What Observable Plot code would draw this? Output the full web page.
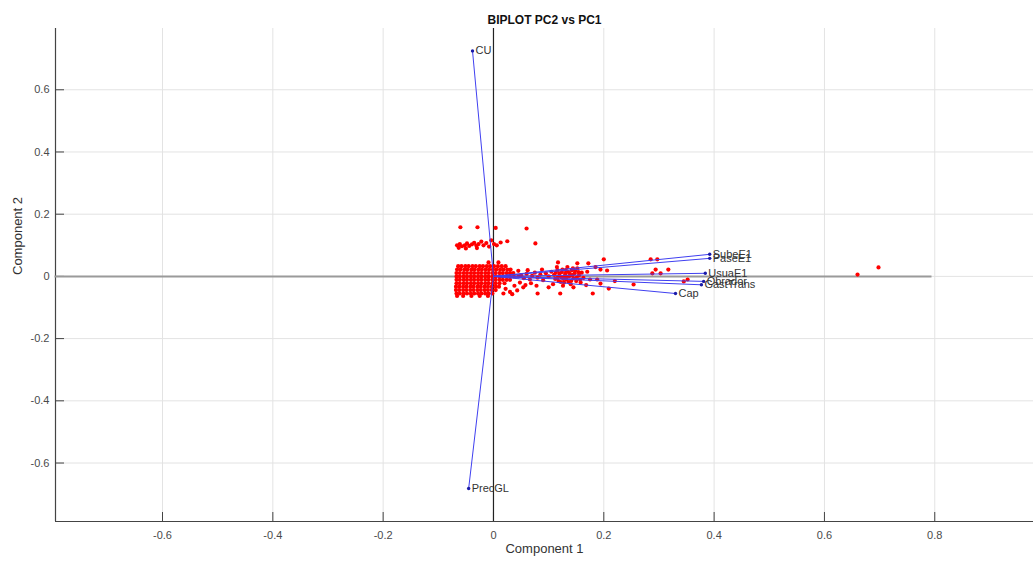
<!DOCTYPE html>
<html>
<head>
<meta charset="utf-8">
<script src="https://cdn.jsdelivr.net/npm/d3@7"></script>
<script src="https://cdn.jsdelivr.net/npm/@observablehq/plot@0.6"></script>
<style>
  html, body { margin: 0; padding: 0; background: #fff; }
  #chart svg { display: block; }
</style>
</head>
<body>
<div id="chart"></div>
<script>
// ---- Data ----
const chartTitle = "BIPLOT PC2 vs PC1";
const xLabel = "Component 1";
const yLabel = "Component 2";
const xTicks = [-0.6, -0.4, -0.2, 0, 0.2, 0.4, 0.6, 0.8];
const yTicks = [-0.6, -0.4, -0.2, 0, 0.2, 0.4, 0.6];

// loading vectors
const vecNames = ["CU", "PrecGL", "SubeE1", "PaseE1", "UsuaE1", "Obrador", "GastTrans", "Cap"];
const vecX = [-0.038, -0.045, 0.392, 0.392, 0.384, 0.381, 0.377, 0.330];
const vecY = [0.725, -0.682, 0.071, 0.058, 0.010, -0.016, -0.027, -0.055];

// dense score cluster, by rows: [y, [x values]]
const clusterRows = [
  [0.033, [-0.064, -0.058, -0.051, -0.045, -0.038, -0.032, -0.025, -0.019, -0.012, -0.006, 0.001, 0.008, 0.015, 0.022]],
  [0.022, [-0.066, -0.060, -0.053, -0.047, -0.040, -0.034, -0.027, -0.021, -0.014, -0.008, -0.001, 0.005, 0.012, 0.018, 0.025, 0.031]],
  [0.011, [-0.067, -0.061, -0.054, -0.048, -0.041, -0.035, -0.028, -0.022, -0.015, -0.009, -0.002, 0.004, 0.011, 0.017, 0.024, 0.030, 0.036]],
  [0.000, [-0.067, -0.061, -0.054, -0.048, -0.041, -0.035, -0.028, -0.022, -0.015, -0.009, -0.002, 0.004, 0.011, 0.017, 0.024, 0.030, 0.037, 0.045]],
  [-0.011, [-0.067, -0.061, -0.054, -0.048, -0.041, -0.035, -0.028, -0.022, -0.015, -0.009, -0.002, 0.004, 0.011, 0.017, 0.024, 0.030]],
  [-0.022, [-0.067, -0.061, -0.054, -0.048, -0.041, -0.035, -0.028, -0.022, -0.015, -0.009, -0.002, 0.004, 0.011, 0.020]],
  [-0.033, [-0.068, -0.062, -0.055, -0.049, -0.042, -0.036, -0.029, -0.023, -0.016, -0.010, -0.003, 0.004, 0.010]],
  [-0.044, [-0.068, -0.062, -0.055, -0.049, -0.042, -0.036, -0.029, -0.023, -0.016, -0.010, -0.003, 0.004]],
  [-0.055, [-0.067, -0.061, -0.054, -0.048, -0.041, -0.035, -0.028, -0.022, -0.015, -0.009, -0.002]],
  [-0.063, [-0.066, -0.055, -0.040, -0.025, -0.010]]
];

// remaining scattered scores: [x, y]
const scatterPts = [
  [-0.066, 0.100], [-0.061, 0.104], [-0.057, 0.097], [-0.052, 0.100], [-0.048, 0.106], [-0.044, 0.098],
  [-0.039, 0.103], [-0.035, 0.108], [-0.031, 0.099], [-0.027, 0.104], [-0.022, 0.112], [-0.018, 0.100],
  [-0.013, 0.107], [-0.008, 0.096], [-0.004, 0.116], [0.001, 0.104], [0.006, 0.100], [0.013, 0.109],
  [0.025, 0.113], [0.076, 0.106], [-0.063, 0.092], [-0.050, 0.090], [-0.030, 0.091],
  [-0.060, 0.158], [-0.029, 0.158], [0.004, 0.156], [0.060, 0.154], [-0.009, 0.045], [0.009, 0.045],
  [0.050, 0.004], [0.055, -0.006], [0.060, 0.008], [0.066, -0.010], [0.070, 0.002], [0.075, 0.012],
  [0.080, -0.004], [0.085, 0.006], [0.090, -0.012], [0.095, 0.010], [0.100, 0.000], [0.048, -0.020],
  [0.058, -0.028], [0.068, -0.022], [0.045, 0.018], [0.062, 0.020], [0.088, 0.022], [0.054, -0.035],
  [0.043, -0.045], [0.018, -0.055], [0.034, -0.057], [0.080, -0.055], [0.100, -0.035], [0.078, -0.030],
  [0.030, -0.050], [0.022, -0.040], [0.038, -0.030],
  [0.105, 0.015], [0.110, 0.005], [0.112, -0.008], [0.116, 0.020], [0.118, -0.015], [0.120, 0.010],
  [0.123, -0.003], [0.125, 0.022], [0.128, -0.020], [0.130, 0.008], [0.132, -0.010], [0.135, 0.015],
  [0.137, 0.000], [0.140, -0.025], [0.142, 0.020], [0.145, -0.006], [0.147, 0.010], [0.150, -0.015],
  [0.152, 0.026], [0.155, 0.004], [0.158, -0.020], [0.160, 0.012], [0.163, -0.005], [0.108, -0.025],
  [0.115, 0.030], [0.126, -0.030], [0.134, 0.030], [0.145, -0.035], [0.117, 0.045], [0.152, 0.042],
  [0.172, 0.042], [0.121, -0.055], [0.170, 0.015], [0.175, -0.010], [0.168, -0.028],
  [0.113, 0.012], [0.119, 0.002], [0.124, 0.014], [0.127, -0.008], [0.131, 0.020], [0.133, -0.002],
  [0.138, 0.010], [0.141, -0.014], [0.143, 0.004], [0.148, 0.018], [0.151, -0.004], [0.154, 0.014],
  [0.122, -0.018], [0.136, -0.018], [0.129, 0.000], [0.144, 0.026], [0.157, -0.010], [0.116, -0.005],
  [0.200, 0.055], [0.194, 0.022], [0.206, 0.019], [0.188, -0.010], [0.194, -0.023], [0.209, -0.039],
  [0.180, -0.055], [0.254, -0.026], [0.285, 0.055], [0.297, 0.055], [0.294, 0.022], [0.303, 0.010],
  [0.288, 0.010], [0.317, 0.022], [0.352, -0.010], [0.345, -0.016], [0.185, 0.030], [0.220, -0.015],
  [0.660, 0.006], [0.698, 0.029]
];

// ---- Build tables ----
const vectors = vecNames.map((n, i) => ({name: n, x: vecX[i], y: vecY[i]}));
const scores = [];
clusterRows.forEach(([y, xs]) => xs.forEach(x => scores.push({x, y})));
scatterPts.forEach(([x, y]) => scores.push({x, y}));

const W = 1033, H = 562;
const mL = 55, mR = 0, mT = 28, mB = 41;
const xDom = [-0.794, 0.979];
const yDom = [-0.788, 0.797];
const frameW = W - mL - mR, frameH = H - mT - mB;
const tickLen = 9;
const fmt = d => String(d);

const chart = Plot.plot({
  width: W,
  height: H,
  marginLeft: mL,
  marginRight: mR,
  marginTop: mT,
  marginBottom: mB,
  style: {fontFamily: "'Liberation Sans', Arial, Helvetica, sans-serif", background: "#fff"},
  x: {domain: xDom, label: null},
  y: {domain: yDom, label: null},
  marks: [
    Plot.gridX(xTicks, {stroke: "#e3e3e3", strokeOpacity: 1}),
    Plot.gridY(yTicks, {stroke: "#e3e3e3", strokeOpacity: 1}),
    Plot.ruleX([xDom[0]], {stroke: "#444", strokeWidth: 1.2}),
    Plot.ruleY([yDom[0]], {stroke: "#444", strokeWidth: 1.2}),
    Plot.tickX(xTicks, {x: d => d, insetTop: frameH - tickLen, stroke: "#444"}),
    Plot.tickY(yTicks, {y: d => d, insetRight: frameW - tickLen, stroke: "#444"}),
    Plot.axisX(xTicks, {tickSize: 0, tickPadding: 10, fontSize: 11, fill: "#4a4a4a", label: null, tickFormat: fmt}),
    Plot.axisY(yTicks, {tickSize: 0, tickPadding: 6, fontSize: 11, fill: "#4a4a4a", label: null, tickFormat: fmt}),
    Plot.ruleY([0], {x1: -0.795, x2: 0.795, stroke: "#9a9a9a", strokeWidth: 2}),
    Plot.ruleX([0], {stroke: "#222", strokeWidth: 1.2}),
    Plot.dot(scores, {x: "x", y: "y", r: 2.1, fill: "#ff0000", stroke: "none"}),
    Plot.link(vectors, {x1: () => 0, y1: () => 0, x2: "x", y2: "y", stroke: "#4040f0", strokeWidth: 1}),
    Plot.dot(vectors, {x: "x", y: "y", r: 1.7, fill: "#1a1aa8", stroke: "none"}),
    Plot.text(vectors, {x: "x", y: "y", text: "name", textAnchor: "start", dx: 3, fontSize: 11, fill: "#333"}),
    Plot.text([chartTitle], {frameAnchor: "top", text: d => d, dy: -13, fontSize: 12, fontWeight: "bold", fill: "#111"}),
    Plot.text([xLabel], {frameAnchor: "bottom", text: d => d, dy: 31, fontSize: 13, fill: "#333"}),
    Plot.text([yLabel], {frameAnchor: "left", text: d => d, dx: -38, rotate: -90, fontSize: 13, fill: "#333"})
  ]
});
document.getElementById("chart").appendChild(chart);
</script>
</body>
</html>
